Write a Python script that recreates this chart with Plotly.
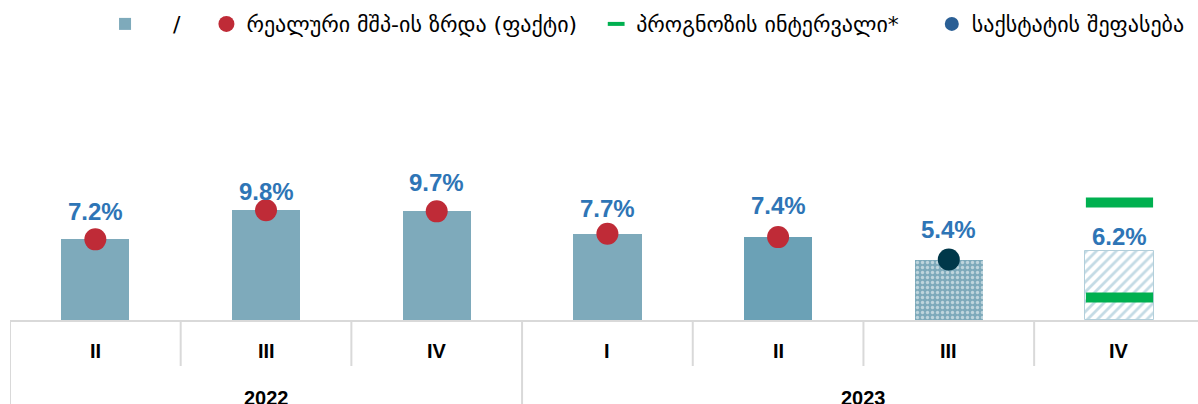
import plotly.graph_objects as go

# ---------------- data ----------------
quarters = ["II", "III", "IV", "I", "II", "III", "IV"]
years = ["2022", "2023"]
year_spans = [(0, 2), (3, 6)]          # index ranges of quarters per year
growth = [7.2, 9.8, 9.7, 7.7, 7.4, 5.4, 6.2]
actual_idx = [0, 1, 2, 3, 4]           # quarters with actual (fact) values
estimate_idx = [5]                     # Geostat estimate
forecast_idx = [6]
interval_high = [10.5]
interval_low = [2.0]

NB = "\u00a0"
legend_bar = NB * 4 + "/" + NB * 3
legend_fact = "რეალური მშპ-ის ზრდა (ფაქტი)" + NB * 2
legend_interval = "პროგნოზის ინტერვალი*" + NB * 4
legend_estimate = "საქსტატის შეფასება"

# ---------------- style ----------------
bar_colors = ["#7eaabb", "#7eaabb", "#7eaabb", "#7eaabb", "#6ba1b6"]
label_offsets_px = [28, 19, 29, 25, 32, 30, 14]
RED = "#bf2b37"
DARK = "#00384a"
BLUE_LEG = "#2a5f95"
GREEN = "#00b050"
LABEL_BLUE = "#2e75b6"
GRID = "#d9d9d9"

x = list(range(len(quarters)))

fig = go.Figure()

# actual bars
fig.add_trace(go.Bar(
    x=[x[i] for i in actual_idx], y=[growth[i] for i in actual_idx],
    width=0.4, name=legend_bar,
    marker=dict(color=bar_colors, line=dict(width=0)),
    hoverinfo="skip",
))
# estimate bar (dotted texture)
fig.add_trace(go.Bar(
    x=[x[i] for i in estimate_idx], y=[growth[i] for i in estimate_idx],
    width=0.4, showlegend=False,
    marker=dict(color="#7eaabb", line=dict(width=0),
                pattern=dict(shape=".", bgcolor="#7eaabb", fgcolor="#ffffff",
                             size=5, solidity=0.35)),
    hoverinfo="skip",
))
# forecast bar (hatched)
fig.add_trace(go.Bar(
    x=[x[i] for i in forecast_idx], y=[growth[i] for i in forecast_idx],
    width=0.4, showlegend=False,
    marker=dict(color="#ffffff", line=dict(width=1, color="#b3cfdb"),
                pattern=dict(shape="/", bgcolor="#ffffff", fgcolor="#8ab8cc",
                             size=7, solidity=0.4)),
    hoverinfo="skip",
))

fig.add_trace(go.Scatter(
    x=[x[i] for i in actual_idx], y=[growth[i] for i in actual_idx],
    mode="markers", name=legend_fact,
    marker=dict(color=RED, size=22, line=dict(width=0)),
))

# forecast interval (on chart) + legend-only entry
fig.add_trace(go.Scatter(
    x=[x[i] for i in forecast_idx] * 2, y=interval_high + interval_low,
    mode="markers", showlegend=False,
    marker=dict(symbol="line-ew", size=48, color=GREEN,
                line=dict(color=GREEN, width=10)),
))
fig.add_trace(go.Scatter(
    x=[None], y=[None], mode="markers", name=legend_interval,
    marker=dict(symbol="line-ew", size=12, color=GREEN,
                line=dict(color=GREEN, width=4)),
))

# estimate point (dark on chart, blue in legend)
fig.add_trace(go.Scatter(
    x=[x[i] for i in estimate_idx], y=[growth[i] for i in estimate_idx],
    mode="markers", showlegend=False,
    marker=dict(color=DARK, size=22),
))
fig.add_trace(go.Scatter(
    x=[None], y=[None], mode="markers", name=legend_estimate,
    marker=dict(color=BLUE_LEG, size=14),
))

# value labels
for i, v in enumerate(growth):
    fig.add_annotation(x=x[i], y=v, text=f"{v:.1f}%", showarrow=False,
                       yshift=label_offsets_px[i], yanchor="middle",
                       font=dict(family="Arial", size=24, color=LABEL_BLUE, weight="bold"))

# quarter labels
for i, q in enumerate(quarters):
    fig.add_annotation(x=x[i], y=0, yref="y", text=q, showarrow=False,
                       yshift=-31, yanchor="middle",
                       font=dict(family="Arial", size=20, color="#000000", weight="bold"))

# year labels and separators
for yr, (a, b) in zip(years, year_spans):
    fig.add_annotation(x=(a + b) / 2, y=0, text=yr, showarrow=False,
                       yshift=-78, yanchor="middle",
                       font=dict(family="Arial", size=20, color="#000000", weight="bold"))
    fig.add_shape(type="line", xref="x", yref="paper", ysizemode="pixel", yanchor=0,
                  x0=a - 0.5, x1=a - 0.5, y0=0, y1=-90,
                  line=dict(color=GRID, width=2))
for i in range(len(quarters) - 1):
    if any(i + 1 == a for a, _ in year_spans):
        continue
    fig.add_shape(type="line", xref="x", yref="paper", ysizemode="pixel", yanchor=0,
                  x0=i + 0.5, x1=i + 0.5, y0=0, y1=-46,
                  line=dict(color=GRID, width=2))

fig.update_layout(
    width=1198, height=404,
    margin=dict(l=10, r=0, t=100, b=84),
    paper_bgcolor="white", plot_bgcolor="white",
    showlegend=True,
    legend=dict(orientation="h", x=0.08, xanchor="left", y=1.345, yanchor="middle",
                font=dict(family="DejaVu Sans", size=22, color="#000000"),
                bgcolor="rgba(0,0,0,0)", itemclick=False, traceorder="normal"),
    xaxis=dict(range=[-0.5, 6.46], showgrid=False, zeroline=False,
               showticklabels=False, showline=True, linecolor=GRID, linewidth=2,
               fixedrange=True),
    yaxis=dict(range=[0, 220 / 11.2], showgrid=False, zeroline=False,
               showticklabels=False, showline=False, fixedrange=True),
    barmode="overlay",
    bargap=0,
)

fig.write_html("out.html", config={"displayModeBar": False},
               post_script="document.body.style.margin='0';document.body.style.overflow='hidden';")
